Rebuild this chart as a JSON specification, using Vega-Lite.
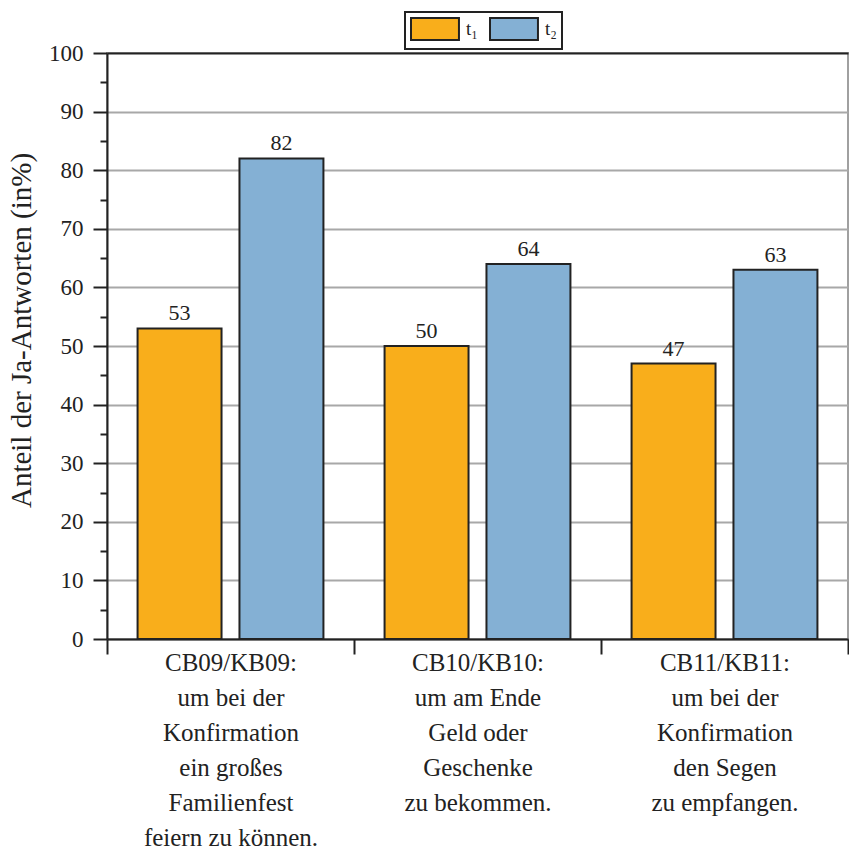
{
  "$schema": "https://vega.github.io/schema/vega-lite/v6.json",
  "width": 741,
  "height": 586,
  "autosize": "none",
  "padding": {"left": 107, "top": 53, "right": 1, "bottom": 212},
  "background": "white",
  "config": {
    "font": "Liberation Serif",
    "view": {"stroke": "#a0a0a0", "strokeWidth": 2},
    "axis": {"labelColor": "#222", "titleColor": "#222", "labelFont": "Liberation Serif", "titleFont": "Liberation Serif"}
  },
  "data": {
    "values": [
      {"cat": "CB09/KB09:|um bei der|Konfirmation|ein großes|Familienfest|feiern zu können.", "series": "t₁", "value": 53},
      {"cat": "CB09/KB09:|um bei der|Konfirmation|ein großes|Familienfest|feiern zu können.", "series": "t₂", "value": 82},
      {"cat": "CB10/KB10:|um am Ende|Geld oder|Geschenke|zu bekommen.", "series": "t₁", "value": 50},
      {"cat": "CB10/KB10:|um am Ende|Geld oder|Geschenke|zu bekommen.", "series": "t₂", "value": 64},
      {"cat": "CB11/KB11:|um bei der|Konfirmation|den Segen|zu empfangen.", "series": "t₁", "value": 47},
      {"cat": "CB11/KB11:|um bei der|Konfirmation|den Segen|zu empfangen.", "series": "t₂", "value": 63}
    ]
  },
  "encoding": {
    "x": {
      "field": "cat",
      "type": "nominal",
      "sort": null,
      "scale": {"paddingInner": 0, "paddingOuter": 0},
      "axis": {
        "title": null,
        "labelExpr": "split(datum.label, '|')",
        "labelAngle": 0,
        "tickBand": "extent",
        "tickSize": 15,
        "tickWidth": 2,
        "tickColor": "#222",
        "domainColor": "#222",
        "domainWidth": 2,
        "labelFontSize": 25,
        "labelLineHeight": 35,
        "labelPadding": -4,
        "labelBaseline": "top",
        "labelLimit": 0,
        "grid": false
      }
    },
    "xOffset": {
      "field": "series",
      "type": "nominal",
      "scale": {"paddingInner": 0.176, "paddingOuter": 0.3}
    },
    "y": {
      "field": "value",
      "type": "quantitative",
      "scale": {"domain": [0, 100], "nice": false},
      "axis": {
        "title": "Anteil der Ja-Antworten (in%)",
        "titleFontSize": 29,
        "titleFontWeight": "normal",
        "titlePadding": 12,
        "titleY": 277,
        "values": [0, 5, 10, 15, 20, 25, 30, 35, 40, 45, 50, 55, 60, 65, 70, 75, 80, 85, 90, 95, 100],
        "labelExpr": "datum.value % 10 == 0 ? datum.label : ''",
        "labelOverlap": false,
        "labelFontSize": 23,
        "labelPadding": 10,
        "tickSize": {"condition": {"test": "datum.value % 10 == 0", "value": 14}, "value": 7},
        "tickWidth": 2,
        "tickColor": "#222",
        "domainColor": "#222",
        "domainWidth": 2,
        "grid": true,
        "gridWidth": 2,
        "gridOpacity": {"condition": {"test": "datum.value % 10 == 0", "value": 1}, "value": 0},
        "gridColor": {"condition": {"test": "datum.value == 100", "value": "#222"}, "value": "#a8a8a8"}
      }
    }
  },
  "layer": [
    {
      "mark": {"type": "bar", "stroke": "#222", "strokeWidth": 2},
      "encoding": {
        "color": {
          "field": "series",
          "type": "nominal",
          "scale": {"domain": ["t₁", "t₂"], "range": ["#F9AE1B", "#84B0D4"]},
          "legend": {
            "title": null,
            "orient": "none",
            "legendX": 298,
            "legendY": -41,
            "direction": "horizontal",
            "symbolType": "M-1,-1H3.36V1H-1Z",
            "symbolSize": 484,
            "symbolStrokeColor": "#222",
            "symbolStrokeWidth": 2,
            "symbolOpacity": 1,
            "labelFontSize": 19,
            "labelColor": "#222",
            "labelOffset": 32,
            "columnPadding": 8,
            "padding": 5,
            "strokeColor": "#222",
            "encode": {"legend": {"update": {"strokeWidth": {"value": 2}}}}
          }
        }
      }
    },
    {
      "mark": {"type": "text", "baseline": "alphabetic", "dy": -8, "fontSize": 22, "color": "#222"},
      "encoding": {"text": {"field": "value", "type": "quantitative"}}
    }
  ]
}
